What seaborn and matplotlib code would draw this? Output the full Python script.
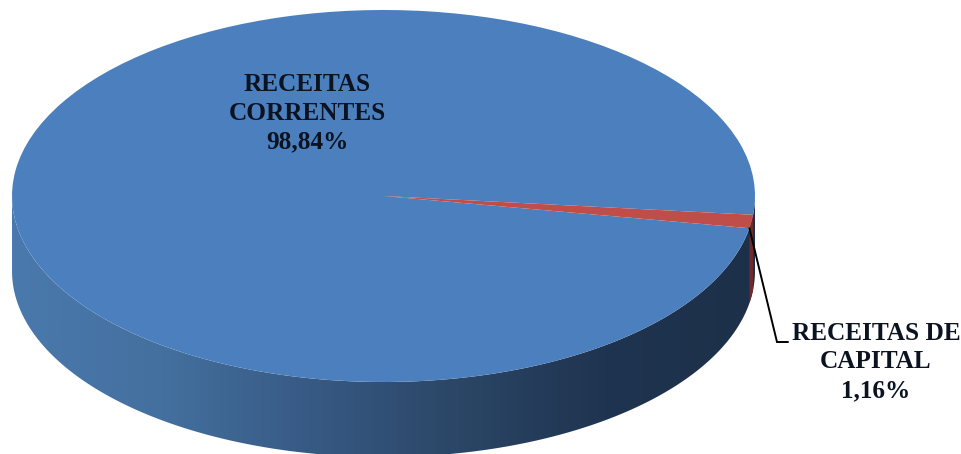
import numpy as np
import matplotlib
matplotlib.use("Agg")
import matplotlib.pyplot as plt
from matplotlib.colors import LinearSegmentedColormap
from matplotlib.patches import Polygon
import seaborn as sns

categories = ["RECEITAS\nCORRENTES", "RECEITAS DE\nCAPITAL"]
shares = [98.84, 1.16]
pct_labels = ["98,84%", "1,16%"]
top_colors = ["#4c7fbd", "#bf4d4a"]
side_colors = ["#4a79ad", "#44709f", "#375a84", "#2b4666", "#1f3450", "#1c3049"]
red_side = "#6e2a2c"

W, H = 962, 454
CX, CY, RX, RY, DEPTH = 383.5, 196, 371.5, 186, 75
START = -5.8

sns.set_theme(style="white")
plt.rcParams["font.family"] = ["Liberation Serif", "DejaVu Serif"]

fig, ax = plt.subplots(figsize=(W / 100, H / 100), dpi=100)
fig.subplots_adjust(0, 0, 1, 1)


def P(px, py):
    return (px - CX) / RX, (CY - py) / RY


d = DEPTH / RY
angles = np.radians(START + 360 * np.cumsum([0] + shares) / sum(shares))


def side_poly(a0, a1):
    t = np.linspace(a0, a1, 500)
    x, y = np.cos(t), np.sin(t)
    return np.column_stack([np.r_[x, x[::-1]], np.r_[y - d, y[::-1]]])


# side wall, gradient clipped to the lower half of the rim
grad = LinearSegmentedColormap.from_list("side", side_colors)
im = ax.imshow(np.linspace(0, 1, 512)[None, :], cmap=grad, aspect="auto",
               extent=(-1, 1, -1 - d, 0.2), zorder=1, interpolation="bilinear")
clip = Polygon(side_poly(np.pi, 2 * np.pi), closed=True, transform=ax.transData,
               fc="none", ec="none")
ax.add_patch(clip)
im.set_clip_path(clip)
# side wall of the small slice
ax.add_patch(Polygon(side_poly(angles[1], angles[2]), closed=True, fc=red_side,
                     ec="none", zorder=2))

# top face
ax.pie(shares, colors=sns.color_palette(top_colors), startangle=START, radius=1,
       center=(0, 0), wedgeprops=dict(linewidth=0), normalize=True, frame=True)
for w in ax.patches:
    w.set_zorder(3 if w is not clip else 0)

ax.set_aspect("auto")
ax.set_xlim(*sorted([P(0, 0)[0], P(W, 0)[0]]))
ax.set_ylim(P(0, H)[1], P(0, 0)[1])
ax.axis("off")

# leader line from the lower edge of the small slice
edge = angles[1]
lx = [np.cos(edge), P(777, 0)[0], P(788, 0)[0]]
ly = [np.sin(edge), P(0, 342)[1], P(0, 342)[1]]
ax.plot(lx, ly, color="#000000", lw=1.4, zorder=5, solid_joinstyle="miter")

txt = dict(ha="center", va="center", color="#0b1220", fontweight="bold",
           fontsize=18.2, linespacing=1.31, zorder=6)
ax.text(*P(307, 113), f"{categories[0]}\n{pct_labels[0]}", **txt)
ax.text(*P(876, 362), f"{categories[1]}\n{pct_labels[1]}", **txt)

fig.savefig("out.png", dpi=100, facecolor="white")
